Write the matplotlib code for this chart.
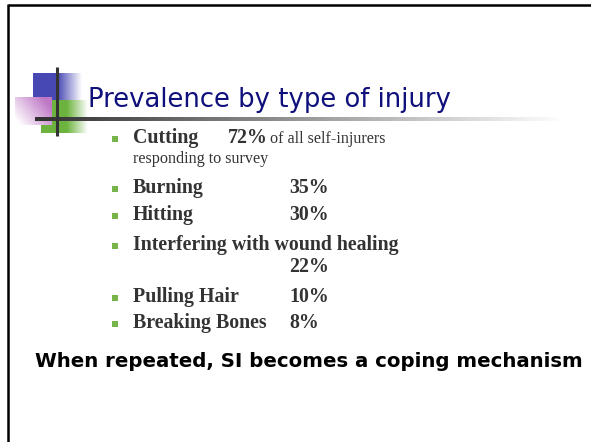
import numpy as np
import matplotlib
matplotlib.use('Agg')
import matplotlib.pyplot as plt
from matplotlib.patches import Rectangle
from matplotlib.colors import to_rgb

# slide content
title = 'Prevalence by type of injury'
injuries = ['Cutting', 'Burning', 'Hitting', 'Interfering with wound healing',
            'Pulling Hair', 'Breaking Bones']
percents = ['72%', '35%', '30%', '22%', '10%', '8%']
cutting_note = 'of all self-injurers'
cutting_note2 = 'responding to survey'
footer = 'When repeated, SI becomes a coping mechanism'

# layout (pixels, y down)
row_base = [143, 193, 220, 250, 302, 328]
pct_base = [143, 193, 220, 272, 302, 328]
pct_x = [228, 289, 289, 289, 289, 289]

W, H = 591, 442
fig = plt.figure(figsize=(W / 100, H / 100), dpi=100)
ax = fig.add_axes([0, 0, 1, 1])
ax.set_xlim(0, W)
ax.set_ylim(H, 0)
ax.axis('off')

# slide border (cut at right/bottom)
ax.plot([8, W + 5], [5, 5], color='black', lw=1.8, solid_capstyle='butt')
ax.plot([8, 8], [4, H + 5], color='black', lw=1.8, solid_capstyle='butt')


def hgrad(x0, x1, y0, y1, color, solid=0.0, zorder=2):
    # horizontal fade from color to white
    t = np.linspace(0, 1, 200)
    a = np.where(t < solid, 1.0, np.clip(1 - (t - solid) / (1 - solid), 0, 1))
    c = np.array(to_rgb(color))
    img = a[None, :, None] * c + (1 - a[None, :, None]) * 1.0
    ax.imshow(img, extent=[x0, x1, y1, y0], aspect='auto', zorder=zorder,
              interpolation='bilinear')


# logo blocks
hgrad(33, 82, 73, 101, '#4848b4', solid=0.5, zorder=2)
hgrad(41, 88, 100, 133, '#6db33f', solid=0.55, zorder=2)
# pink block, fading towards lower left
gx, gy = np.meshgrid(np.linspace(0, 1, 60), np.linspace(0, 1, 60))
pa = np.clip(0.8 * gx + 0.5 * (1 - gy) - 0.1, 0, 1)[:, :, None]
pink = np.array(to_rgb('#bf78c6'))
ax.imshow(pa * pink + (1 - pa), extent=[15, 52, 125, 97], aspect='auto',
          zorder=3, interpolation='bilinear')
# cross lines
ax.plot([57, 57], [67, 136], color='#333333', lw=2.2, zorder=5, solid_capstyle='butt')
t = np.linspace(0, 1, 300)
line = (t[None, :, None] * 1.0 + (1 - t[None, :, None]) * np.array(to_rgb('#303030')))
ax.imshow(line, extent=[35, 565, 121, 117.5], aspect='auto', zorder=4,
          interpolation='bilinear')

ax.text(88, 107, title, fontsize=18.6, color='#10107c', family='DejaVu Sans',
        va='baseline', ha='left')

serif = 'Liberation Serif'
for name, pct, yb, yp, xp in zip(injuries, percents, row_base, pct_base, pct_x):
    ax.add_patch(Rectangle((112, yb - 7), 5.5, 5.5, color='#77b54a', lw=0))
    ax.text(133, yb, name, fontsize=14.3, fontweight='bold', family=serif,
            color='#333333', va='baseline')
    ax.text(xp, yp, pct, fontsize=14.3, fontweight='bold', family=serif,
            color='#333333', va='baseline')

ax.text(270, 143, cutting_note, fontsize=11.6, family=serif, color='#333333',
        va='baseline')
ax.text(133, 163, cutting_note2, fontsize=11.6, family=serif, color='#333333',
        va='baseline')

ax.text(35, 367, footer, fontsize=14.2, fontweight='bold', family='DejaVu Sans',
        color='black', va='baseline')

fig.savefig('out.png', dpi=100)
